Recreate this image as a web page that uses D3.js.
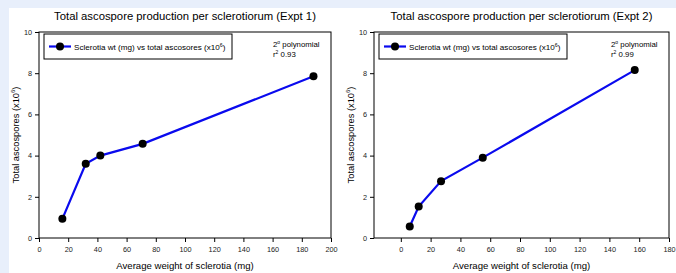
<!DOCTYPE html>
<html>
<head>
<meta charset="utf-8">
<script src="https://cdn.jsdelivr.net/npm/d3@7"></script>
<style>
    body { margin: 0; background: #e8effb; }
    svg { display: block; font-family: Arial, "Liberation Sans", sans-serif; }
</style>
</head>
<body>
<div id="chart"></div>
<script>
const expt1Weight = [16, 32, 42, 71, 188];
const expt1Spores = [0.93, 3.6, 4.0, 4.57, 7.85];
const expt2Weight = [6, 12, 27, 55, 157];
const expt2Spores = [0.56, 1.53, 2.76, 3.9, 8.15];
const yTicks = [0, 2, 4, 6, 8, 10];
const xTicks1 = [0, 20, 40, 60, 80, 100, 120, 140, 160, 180, 200];
const xTicks2 = [0, 20, 40, 60, 80, 100, 120, 140, 160, 180];
const titles = ["Total ascospore production per sclerotiorum (Expt 1)", "Total ascospore production per sclerotiorum (Expt 2)"];
const rSquared = ["0.93", "0.99"];

const width = 676;
const height = 273;

const svg = d3.select("#chart")
    .append("svg")
        .attr("width", width)
        .attr("height", height);

// white page area
svg.append("rect")
    .attr("x", 9)
    .attr("y", 8)
    .attr("width", width - 9)
    .attr("height", height - 8)
    .attr("fill", "#fff");

function drawPanel(opts) {
    const x = d3.scaleLinear().domain(opts.xDomain).range([opts.left, opts.right]);
    const y = d3.scaleLinear().domain([0, 10]).range([238, 32]);
    const g = svg.append("g");

    // frame
    g.append("rect")
        .attr("x", opts.left)
        .attr("y", y(10))
        .attr("width", opts.right - opts.left)
        .attr("height", y(0) - y(10))
        .attr("fill", "none")
        .attr("stroke", "#000")
        .attr("stroke-width", 1);

    const yAxis = g.append("g")
        .attr("transform", "translate(" + opts.left + ",0)")
        .call(d3.axisLeft(y).tickValues(yTicks).tickSize(4).tickPadding(3));
    const xAxis = g.append("g")
        .attr("transform", "translate(0," + y(0) + ")")
        .call(d3.axisBottom(x).tickValues(opts.xTicks).tickSize(4).tickPadding(5));
    [xAxis, yAxis].forEach(a => {
        a.select(".domain").remove();
        a.selectAll("line").attr("stroke", "#000");
        a.selectAll("text")
            .attr("fill", "#222")
            .style("font-size", "7.3px")
            .style("font-family", "Arial, 'Liberation Sans', sans-serif");
    });

    // title
    g.append("text")
        .attr("x", (opts.left + opts.right) / 2)
        .attr("y", 20)
        .attr("text-anchor", "middle")
        .style("font-size", "11.3px")
        .text(opts.title);

    // axis labels
    g.append("text")
        .attr("x", (opts.left + opts.right) / 2)
        .attr("y", 269)
        .attr("text-anchor", "middle")
        .style("font-size", "9.6px")
        .text("Average weight of sclerotia (mg)");

    const yl = g.append("text")
        .attr("transform", "translate(" + (opts.left - 20) + "," + ((y(0) + y(10)) / 2) + ") rotate(-90)")
        .attr("text-anchor", "middle")
        .style("font-size", "9.3px");
    yl.append("tspan").text("Total ascospores (x10");
    yl.append("tspan").attr("dy", -3.8).style("font-size", "6px").text("6");
    yl.append("tspan").attr("dy", 3.8).text(")");

    // line + markers
    const pts = opts.xs.map((v, i) => [v, opts.ys[i]]);
    g.append("path")
        .datum(pts)
        .attr("fill", "none")
        .attr("stroke", "#0a0aee")
        .attr("stroke-width", 2.2)
        .attr("d", d3.line().x(d => x(d[0])).y(d => y(d[1])));
    g.selectAll(".pt")
        .data(pts)
        .enter()
        .append("circle")
            .attr("class", "pt")
            .attr("cx", d => x(d[0]))
            .attr("cy", d => y(d[1]))
            .attr("r", 4)
            .attr("fill", "#000");

    // legend
    const lx = opts.left + 5;
    g.append("rect")
        .attr("x", lx)
        .attr("y", 34)
        .attr("width", 188)
        .attr("height", 25)
        .attr("fill", "#fff")
        .attr("stroke", "#000")
        .attr("stroke-width", 1);
    g.append("line")
        .attr("x1", lx + 5)
        .attr("x2", lx + 27)
        .attr("y1", 46.5)
        .attr("y2", 46.5)
        .attr("stroke", "#0a0aee")
        .attr("stroke-width", 2.2);
    g.append("circle")
        .attr("cx", lx + 16)
        .attr("cy", 46.5)
        .attr("r", 4)
        .attr("fill", "#000");
    const lt = g.append("text")
        .attr("x", lx + 30)
        .attr("y", 49.5)
        .style("font-size", "8.1px");
    lt.append("tspan").text("Sclerotia wt (mg) vs total ascosores (x10");
    lt.append("tspan").attr("dy", -3).style("font-size", "5.3px").text("6");
    lt.append("tspan").attr("dy", 3).text(")");

    // fit annotation
    const ax = opts.right - 58;
    const a1 = g.append("text").attr("x", ax).attr("y", 46.5).style("font-size", "7.8px");
    a1.append("tspan").text("2");
    a1.append("tspan").attr("dy", -3).style("font-size", "5px").text("o");
    a1.append("tspan").attr("dy", 3).text(" polynomial");
    const a2 = g.append("text").attr("x", ax).attr("y", 56.5).style("font-size", "7.8px");
    a2.append("tspan").text("r");
    a2.append("tspan").attr("dy", -3).style("font-size", "5px").text("2");
    a2.append("tspan").attr("dy", 3).text("  " + opts.r2);
}

drawPanel({
    left: 39, right: 331, xDomain: [0, 200], xTicks: xTicks1,
    xs: expt1Weight, ys: expt1Spores, title: titles[0], r2: rSquared[0]
});
drawPanel({
    left: 374, right: 669, xDomain: [-18, 180], xTicks: xTicks2,
    xs: expt2Weight, ys: expt2Spores, title: titles[1], r2: rSquared[1]
});
</script>
</body>
</html>
